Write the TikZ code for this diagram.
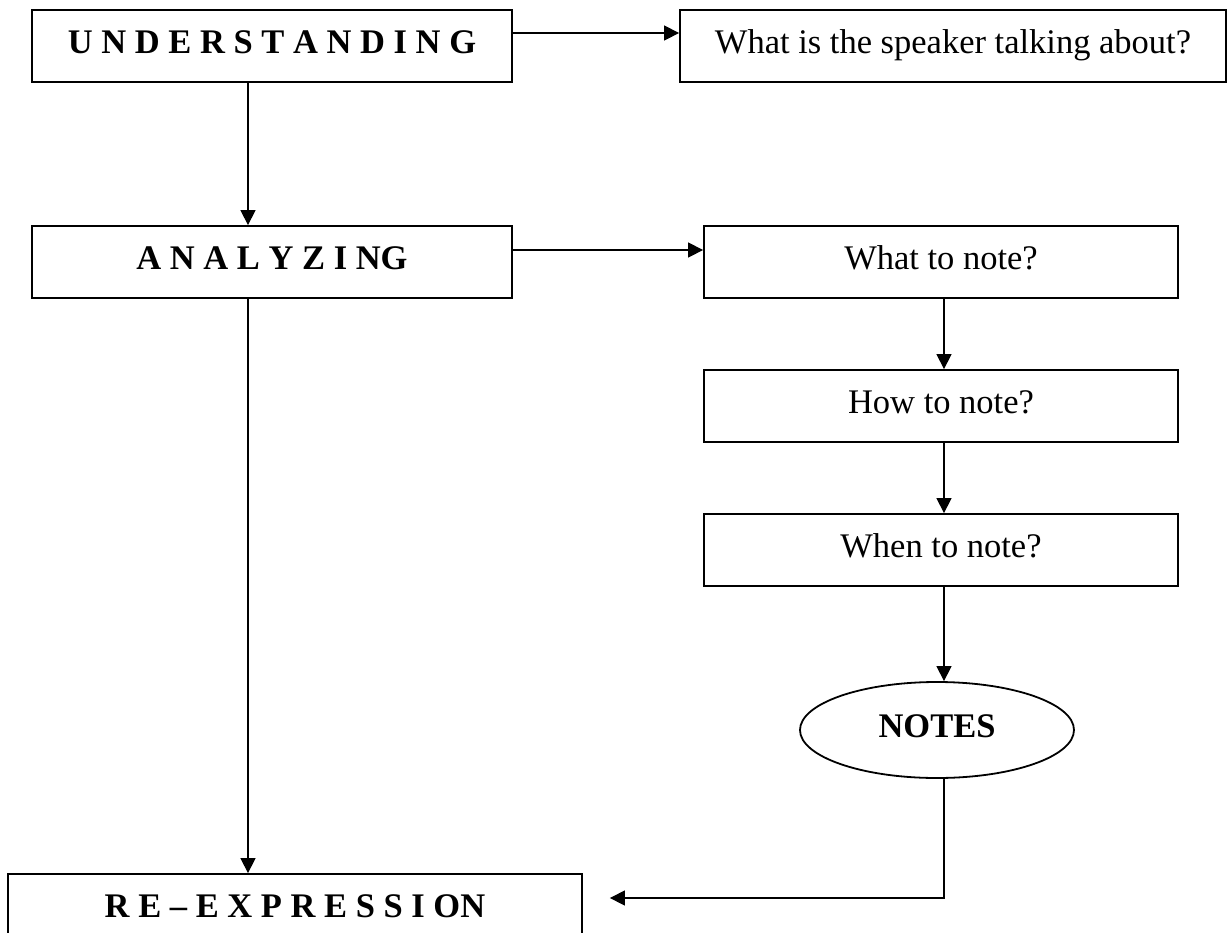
\documentclass[tikz,border=0pt]{standalone}
\usepackage{fontspec}
\setmainfont{Liberation Serif}
\usetikzlibrary{arrows.meta,shapes.geometric,calc}
\begin{document}
\begin{tikzpicture}[x=0.5pt,y=-0.5pt,
  txt/.style={font=\fontsize{17.25}{20}\selectfont},
  box/.style={draw,line width=0.9pt,rectangle,inner sep=0pt,minimum height=36pt,
    text height=21.5pt,text depth=14.5pt,align=center,txt},
  capbox/.style={box,font=\fontsize{17.25}{20}\selectfont\bfseries},
  oval/.style={ellipse,draw,line width=0.9pt,inner sep=0pt,minimum width=137pt,
    minimum height=48pt,text height=12pt,text depth=5pt,font=\fontsize{17.25}{20}\selectfont\bfseries},
  arr/.style={line width=0.65pt,-{Triangle[length=7.5pt,width=7.5pt]}}]
\clip (0,0) rectangle (1228,933);
\fill[white] (0,0) rectangle (1228,933);
\node[capbox,minimum width=240pt] (u) at (272,46) {U N D E R S T A N D I N G};
\node[box,minimum width=273pt] (w) at (953,46) {What is the speaker talking about?};
\node[capbox,minimum width=240pt] (a) at (272,262) {A N A L Y Z I NG};
\node[box,minimum width=237pt] (wn) at (941,262) {What to note?};
\node[box,minimum width=237pt] (hn) at (941,406) {How to note?};
\node[box,minimum width=237pt] (wh) at (941,550) {When to note?};
\node[oval] (notes) at (937,730) {NOTES};
\node[capbox,minimum width=287pt] (re) at (295,910) {R E – E X P R E S S I ON};
% helper coordinates
\coordinate (ue) at ([yshift=6.5pt]u.east);
\coordinate (us) at ([xshift=-12pt]u.south);
\coordinate (ae) at ([yshift=6pt]a.east);
\coordinate (as) at ([xshift=-12pt]a.south);
\coordinate (wns) at ([xshift=1.5pt]wn.south);
\coordinate (hns) at ([xshift=1.5pt]hn.south);
\coordinate (whs) at ([xshift=1.5pt]wh.south);
\coordinate (rein) at ([xshift=13.5pt,yshift=6pt]re.east);
% connectors
\draw[arr] (ue) -- (ue -| w.west);
\draw[arr] (us) -- (us |- a.north);
\draw[arr] (ae) -- (ae -| wn.west);
\draw[arr] (wns) -- (wns |- hn.north);
\draw[arr] (hns) -- (hns |- wh.north);
\draw[arr] (whs) -- (whs |- notes.north);
\draw[arr] (as) -- (as |- re.north);
\draw[arr] (whs |- notes.south) |- (rein);
\end{tikzpicture}
\end{document}
